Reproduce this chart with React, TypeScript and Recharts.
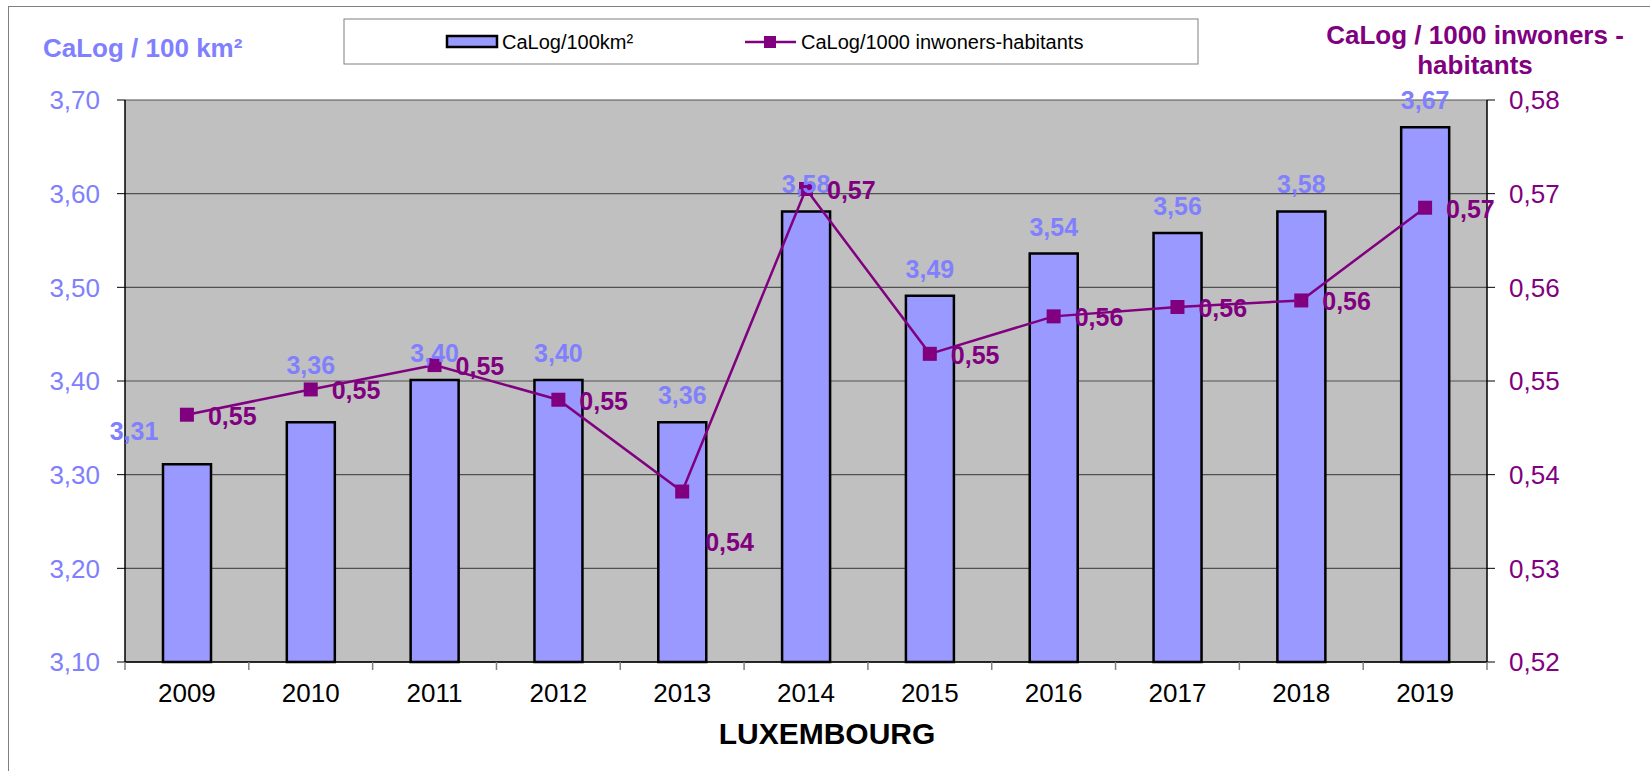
import React from 'react';
import {
  ComposedChart,
  Bar,
  Line,
  XAxis,
  YAxis,
  CartesianGrid,
  LabelList,
  Label
} from 'recharts';

const years = ['2009', '2010', '2011', '2012', '2013', '2014', '2015', '2016', '2017', '2018', '2019'];
const perArea = [3.311, 3.356, 3.401, 3.401, 3.356, 3.581, 3.491, 3.536, 3.558, 3.581, 3.671];
const perInhabitants = [0.5464, 0.5491, 0.5517, 0.548, 0.5382, 0.5705, 0.5529, 0.5569, 0.5579, 0.5586, 0.5685];
const leftTicks = [3.1, 3.2, 3.3, 3.4, 3.5, 3.6, 3.7];
const rightTicks = [0.52, 0.53, 0.54, 0.55, 0.56, 0.57, 0.58];

const data = years.map((year, i) => ({
  year,
  perArea: perArea[i],
  perInhabitants: perInhabitants[i]
}));

const W = 1650;
const H = 771;
const PLOT_LEFT = 125;
const PLOT_RIGHT = 1487;
const PLOT_TOP = 100;
const PLOT_BOTTOM = 662;
const XAXIS_H = 60;
const FONT = '"Liberation Sans", Arial, sans-serif';

const BLUE = '#8080ff';
const PURPLE = '#800080';

const comma = (v: number) => v.toFixed(2).replace('.', ',');

// Excel moved a couple of labels by hand to keep them off the line
const barLabelNudge: Record<number, [number, number]> = { 0: [-53, -6], 1: [0, -30] };
const lineLabelNudge: Record<number, [number, number]> = { 4: [2, 49] };

const band = (PLOT_RIGHT - PLOT_LEFT) / years.length;

const YearTick = (props: any) => {
  const { x, payload, index } = props;
  return (
    <g>
      <line x1={x - band / 2} x2={x - band / 2} y1={PLOT_BOTTOM} y2={PLOT_BOTTOM + 8} stroke="#808080" strokeWidth={1.5} />
      {index === years.length - 1 && (
        <line x1={x + band / 2} x2={x + band / 2} y1={PLOT_BOTTOM} y2={PLOT_BOTTOM + 8} stroke="#808080" strokeWidth={1.5} />
      )}
      <text x={x} y={702} textAnchor="middle" fontFamily={FONT} fontSize={26} fill="#000">
        {payload.value}
      </text>
    </g>
  );
};

const BarValueLabel = (props: any) => {
  const { x, y, width, value, index } = props;
  const [dx, dy] = barLabelNudge[index] || [0, 0];
  return (
    <text
      x={x + width / 2 + dx}
      y={y - 18 + dy}
      textAnchor="middle"
      fontFamily={FONT}
      fontSize={25}
      fontWeight="bold"
      fill={BLUE}
    >
      {comma(value)}
    </text>
  );
};

const LineValueLabel = (props: any) => {
  const { x, y, value, index } = props;
  const [dx, dy] = lineLabelNudge[index] || [0, 0];
  return (
    <text x={x + 21 + dx} y={y + 10 + dy} fontFamily={FONT} fontSize={25} fontWeight="bold" fill={PURPLE}>
      {comma(value)}
    </text>
  );
};

const SquareDot = (props: any) => {
  const { cx, cy } = props;
  return <rect x={cx - 7} y={cy - 7} width={14} height={14} fill={PURPLE} />;
};

const Legendbox = () => (
  <svg
    width={856}
    height={47}
    style={{ position: 'absolute', left: 343, top: 18, overflow: 'visible' }}
  >
    <rect x={1} y={1} width={854} height={45} fill="#fff" stroke="#808080" strokeWidth={1} />
    <rect x={104} y={18} width={50} height={11} fill="#9999ff" stroke="#000" strokeWidth={2.5} />
    <text x={159} y={31} fontFamily={FONT} fontSize={20} fill="#000">
      CaLog/100km²
    </text>
    <line x1={402} x2={453} y1={24} y2={24} stroke={PURPLE} strokeWidth={2.5} />
    <rect x={421} y={18} width={12} height={12} fill={PURPLE} />
    <text x={458} y={31} fontFamily={FONT} fontSize={20} fill="#000">
      CaLog/1000 inwoners-habitants
    </text>
  </svg>
);

const App: React.FC = () => {
  return (
    <div
      style={{
        position: 'absolute',
        left: 0,
        top: 0,
        width: W,
        height: H,
        background: '#fff',
        overflow: 'hidden'
      }}
    >
      <div
        style={{
          position: 'absolute',
          left: 8,
          top: 6,
          width: W + 40,
          height: H + 40,
          border: '1px solid #808080'
        }}
      />
      <div style={{ position: 'absolute', left: 0, top: 0 }}>
        <ComposedChart
          width={W}
          height={H}
          data={data}
          margin={{ top: PLOT_TOP, right: 0, bottom: H - PLOT_BOTTOM - XAXIS_H, left: 0 }}
        >
          <CartesianGrid
            yAxisId="left"
            vertical={false}
            stroke="#505050"
            strokeWidth={1.2}
            fill="#c0c0c0"
          />
          <XAxis
            dataKey="year"
            height={XAXIS_H}
            axisLine={{ stroke: '#000', strokeWidth: 1.5 }}
            tickLine={false}
            tickSize={8}
            tickMargin={0}
            tick={<YearTick />}
            interval={0}
          >
            <Label
              content={() => (
                <text x={827} y={744} textAnchor="middle" fontFamily={FONT} fontSize={30} fontWeight="bold" fill="#000">
                  LUXEMBOURG
                </text>
              )}
            />
          </XAxis>
          <YAxis
            yAxisId="left"
            width={PLOT_LEFT}
            domain={[3.1, 3.7]}
            ticks={leftTicks}
            interval={0}
            tickFormatter={comma}
            tickSize={8}
            tickMargin={17}
            axisLine={{ stroke: '#000', strokeWidth: 1.5 }}
            tickLine={{ stroke: '#000', strokeWidth: 1 }}
            tick={{ fontFamily: FONT, fontSize: 26, fill: BLUE }}
          >
            <Label
              content={() => (
                <text x={43} y={57} fontFamily={FONT} fontSize={26} fontWeight="bold" fill={BLUE}>
                  CaLog / 100 km²
                </text>
              )}
            />
          </YAxis>
          <YAxis
            yAxisId="right"
            orientation="right"
            width={W - PLOT_RIGHT}
            domain={[0.52, 0.58]}
            ticks={rightTicks}
            interval={0}
            tickFormatter={comma}
            tickSize={8}
            tickMargin={14}
            axisLine={{ stroke: '#000', strokeWidth: 1.5 }}
            tickLine={{ stroke: '#000', strokeWidth: 1 }}
            tick={{ fontFamily: FONT, fontSize: 26, fill: PURPLE }}
          >
            <Label
              content={() => (
                <text textAnchor="middle" fontFamily={FONT} fontSize={26} fontWeight="bold" fill={PURPLE}>
                  <tspan x={1475} y={44}>CaLog / 1000 inwoners -</tspan>
                  <tspan x={1475} y={74}>habitants</tspan>
                </text>
              )}
            />
          </YAxis>
          <Bar
            yAxisId="left"
            dataKey="perArea"
            name="CaLog/100km²"
            fill="#9999ff"
            stroke="#000"
            strokeWidth={2.5}
            barSize={48}
            isAnimationActive={false}
          >
            <LabelList dataKey="perArea" content={<BarValueLabel />} />
          </Bar>
          <Line
            yAxisId="right"
            dataKey="perInhabitants"
            name="CaLog/1000 inwoners-habitants"
            stroke={PURPLE}
            strokeWidth={2.5}
            dot={<SquareDot />}
            activeDot={false}
            isAnimationActive={false}
          >
            <LabelList dataKey="perInhabitants" content={<LineValueLabel />} />
          </Line>
        </ComposedChart>
      </div>
      <Legendbox />
    </div>
  );
};

export default App;
